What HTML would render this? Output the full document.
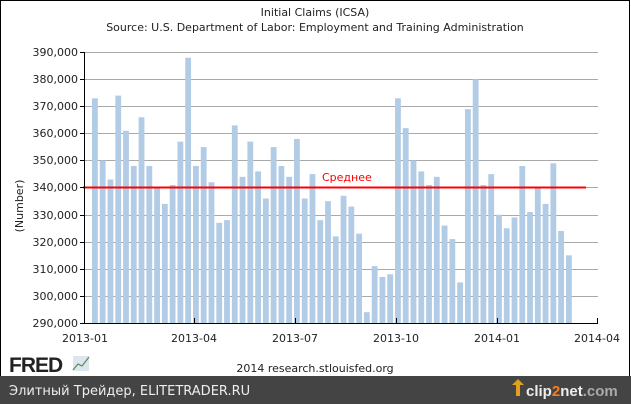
<!DOCTYPE html>
<html><head><meta charset="utf-8"><style>
html,body{margin:0;padding:0;background:#fff;}
svg{display:block;font-family:"DejaVu Sans","Liberation Sans",sans-serif;}
</style></head><body>
<svg width="631" height="404" viewBox="0 0 631 404" xmlns="http://www.w3.org/2000/svg">
<rect x="0.5" y="0.5" width="629" height="390" fill="#fff" stroke="#000"/>
<text x="315" y="16" font-size="11" text-anchor="middle" fill="#222">Initial Claims (ICSA)</text>
<text x="315" y="31" font-size="11" text-anchor="middle" fill="#222">Source: U.S. Department of Labor: Employment and Training Administration</text>
<g stroke="#aaa" stroke-width="1">
<line x1="84" y1="52.5" x2="598" y2="52.5"/><line x1="84" y1="79.5" x2="598" y2="79.5"/>
<line x1="84" y1="106.5" x2="598" y2="106.5"/><line x1="84" y1="133.5" x2="598" y2="133.5"/>
<line x1="84" y1="160.5" x2="598" y2="160.5"/><line x1="84" y1="187.5" x2="598" y2="187.5"/>
<line x1="84" y1="215.5" x2="598" y2="215.5"/><line x1="84" y1="242.5" x2="598" y2="242.5"/>
<line x1="84" y1="269.5" x2="598" y2="269.5"/><line x1="84" y1="296.5" x2="598" y2="296.5"/>
</g>
<g fill="#b3cce6" transform="translate(92,323) scale(7.77,-2.707)">
<rect x="0" y="0" width="0.75" height="83"/><rect x="1" y="0" width="0.75" height="60"/><rect x="2" y="0" width="0.75" height="53"/><rect x="3" y="0" width="0.75" height="84"/><rect x="4" y="0" width="0.75" height="71"/><rect x="5" y="0" width="0.75" height="58"/><rect x="6" y="0" width="0.75" height="76"/><rect x="7" y="0" width="0.75" height="58"/><rect x="8" y="0" width="0.75" height="50"/><rect x="9" y="0" width="0.75" height="44"/>
<rect x="10" y="0" width="0.75" height="51"/><rect x="11" y="0" width="0.75" height="67"/><rect x="12" y="0" width="0.75" height="98"/><rect x="13" y="0" width="0.75" height="58"/><rect x="14" y="0" width="0.75" height="65"/><rect x="15" y="0" width="0.75" height="52"/><rect x="16" y="0" width="0.75" height="37"/><rect x="17" y="0" width="0.75" height="38"/><rect x="18" y="0" width="0.75" height="73"/><rect x="19" y="0" width="0.75" height="54"/>
<rect x="20" y="0" width="0.75" height="67"/><rect x="21" y="0" width="0.75" height="56"/><rect x="22" y="0" width="0.75" height="46"/><rect x="23" y="0" width="0.75" height="65"/><rect x="24" y="0" width="0.75" height="58"/><rect x="25" y="0" width="0.75" height="54"/><rect x="26" y="0" width="0.75" height="68"/><rect x="27" y="0" width="0.75" height="46"/><rect x="28" y="0" width="0.75" height="55"/><rect x="29" y="0" width="0.75" height="38"/>
<rect x="30" y="0" width="0.75" height="45"/><rect x="31" y="0" width="0.75" height="32"/><rect x="32" y="0" width="0.75" height="47"/><rect x="33" y="0" width="0.75" height="43"/><rect x="34" y="0" width="0.75" height="33"/><rect x="35" y="0" width="0.75" height="4"/><rect x="36" y="0" width="0.75" height="21"/><rect x="37" y="0" width="0.75" height="17"/><rect x="38" y="0" width="0.75" height="18"/><rect x="39" y="0" width="0.75" height="83"/>
<rect x="40" y="0" width="0.75" height="72"/><rect x="41" y="0" width="0.75" height="60"/><rect x="42" y="0" width="0.75" height="56"/><rect x="43" y="0" width="0.75" height="51"/><rect x="44" y="0" width="0.75" height="54"/><rect x="45" y="0" width="0.75" height="36"/><rect x="46" y="0" width="0.75" height="31"/><rect x="47" y="0" width="0.75" height="15"/><rect x="48" y="0" width="0.75" height="79"/><rect x="49" y="0" width="0.75" height="90"/>
<rect x="50" y="0" width="0.75" height="51"/><rect x="51" y="0" width="0.75" height="55"/><rect x="52" y="0" width="0.75" height="40"/><rect x="53" y="0" width="0.75" height="35"/><rect x="54" y="0" width="0.75" height="39"/><rect x="55" y="0" width="0.75" height="58"/><rect x="56" y="0" width="0.75" height="41"/><rect x="57" y="0" width="0.75" height="50"/><rect x="58" y="0" width="0.75" height="44"/><rect x="59" y="0" width="0.75" height="59"/>
<rect x="60" y="0" width="0.75" height="34"/><rect x="61" y="0" width="0.75" height="25"/>
</g>
<line x1="83" y1="187.5" x2="586" y2="187.5" stroke="#f00" stroke-width="2"/>
<text x="322" y="181" font-size="11" fill="#f00">Среднее</text>
<g stroke="#000" stroke-width="1">
<line x1="84.5" y1="52" x2="84.5" y2="323"/>
<line x1="84" y1="323.5" x2="598" y2="323.5"/>
<line x1="80" y1="52.5" x2="84" y2="52.5"/><line x1="80" y1="79.5" x2="84" y2="79.5"/><line x1="80" y1="106.5" x2="84" y2="106.5"/><line x1="80" y1="133.5" x2="84" y2="133.5"/><line x1="80" y1="160.5" x2="84" y2="160.5"/><line x1="80" y1="187.5" x2="84" y2="187.5"/><line x1="80" y1="215.5" x2="84" y2="215.5"/><line x1="80" y1="242.5" x2="84" y2="242.5"/><line x1="80" y1="269.5" x2="84" y2="269.5"/><line x1="80" y1="296.5" x2="84" y2="296.5"/><line x1="80" y1="323.5" x2="84" y2="323.5"/>
<line x1="194.5" y1="318" x2="194.5" y2="324"/><line x1="295.5" y1="318" x2="295.5" y2="324"/><line x1="396.5" y1="318" x2="396.5" y2="324"/><line x1="497.5" y1="318" x2="497.5" y2="324"/><line x1="597.5" y1="318" x2="597.5" y2="324"/>
</g>
<g font-size="11" fill="#222" text-anchor="end">
<text x="78" y="56">390,000</text><text x="78" y="83">380,000</text><text x="78" y="110">370,000</text><text x="78" y="137">360,000</text><text x="78" y="164">350,000</text><text x="78" y="191">340,000</text><text x="78" y="219">330,000</text><text x="78" y="246">320,000</text><text x="78" y="273">310,000</text><text x="78" y="300">300,000</text><text x="78" y="327">290,000</text>
</g>
<text transform="translate(23,206) rotate(-90)" font-size="11" fill="#222" text-anchor="middle">(Number)</text>
<g font-size="11" fill="#222" text-anchor="middle">
<text x="85" y="342">2013-01</text><text x="194" y="342">2013-04</text><text x="295" y="342">2013-07</text><text x="396" y="342">2013-10</text><text x="497" y="342">2014-01</text><text x="597" y="342">2014-04</text>
</g>
<text x="9" y="372" font-family="Liberation Sans,sans-serif" font-weight="bold" font-size="21" fill="#222" letter-spacing="-1">FRED</text>
<rect x="73" y="356" width="16" height="15" fill="#dde6ee"/>
<polyline points="73,370 78,364 82,366 89,357" fill="none" stroke="#5a8a5a" stroke-width="1.2"/>
<text x="315" y="372" font-size="11" fill="#222" text-anchor="middle">2014 research.stlouisfed.org</text>
<rect x="0" y="376" width="631" height="28" fill="#444"/>
<text x="9" y="395" font-size="13" fill="#eee">Элитный Трейдер, ELITETRADER.RU</text>
<polygon points="512,385 518,379 524,385 520,385 520,396 516,396 516,385" fill="#e0a020"/>
<text x="526" y="396" font-family="Liberation Sans,sans-serif" font-weight="bold" font-size="15" fill="#eee">clip<tspan fill="#f08020">2</tspan>net<tspan fill="#aaa">.com</tspan></text>
</svg>
</body></html>
